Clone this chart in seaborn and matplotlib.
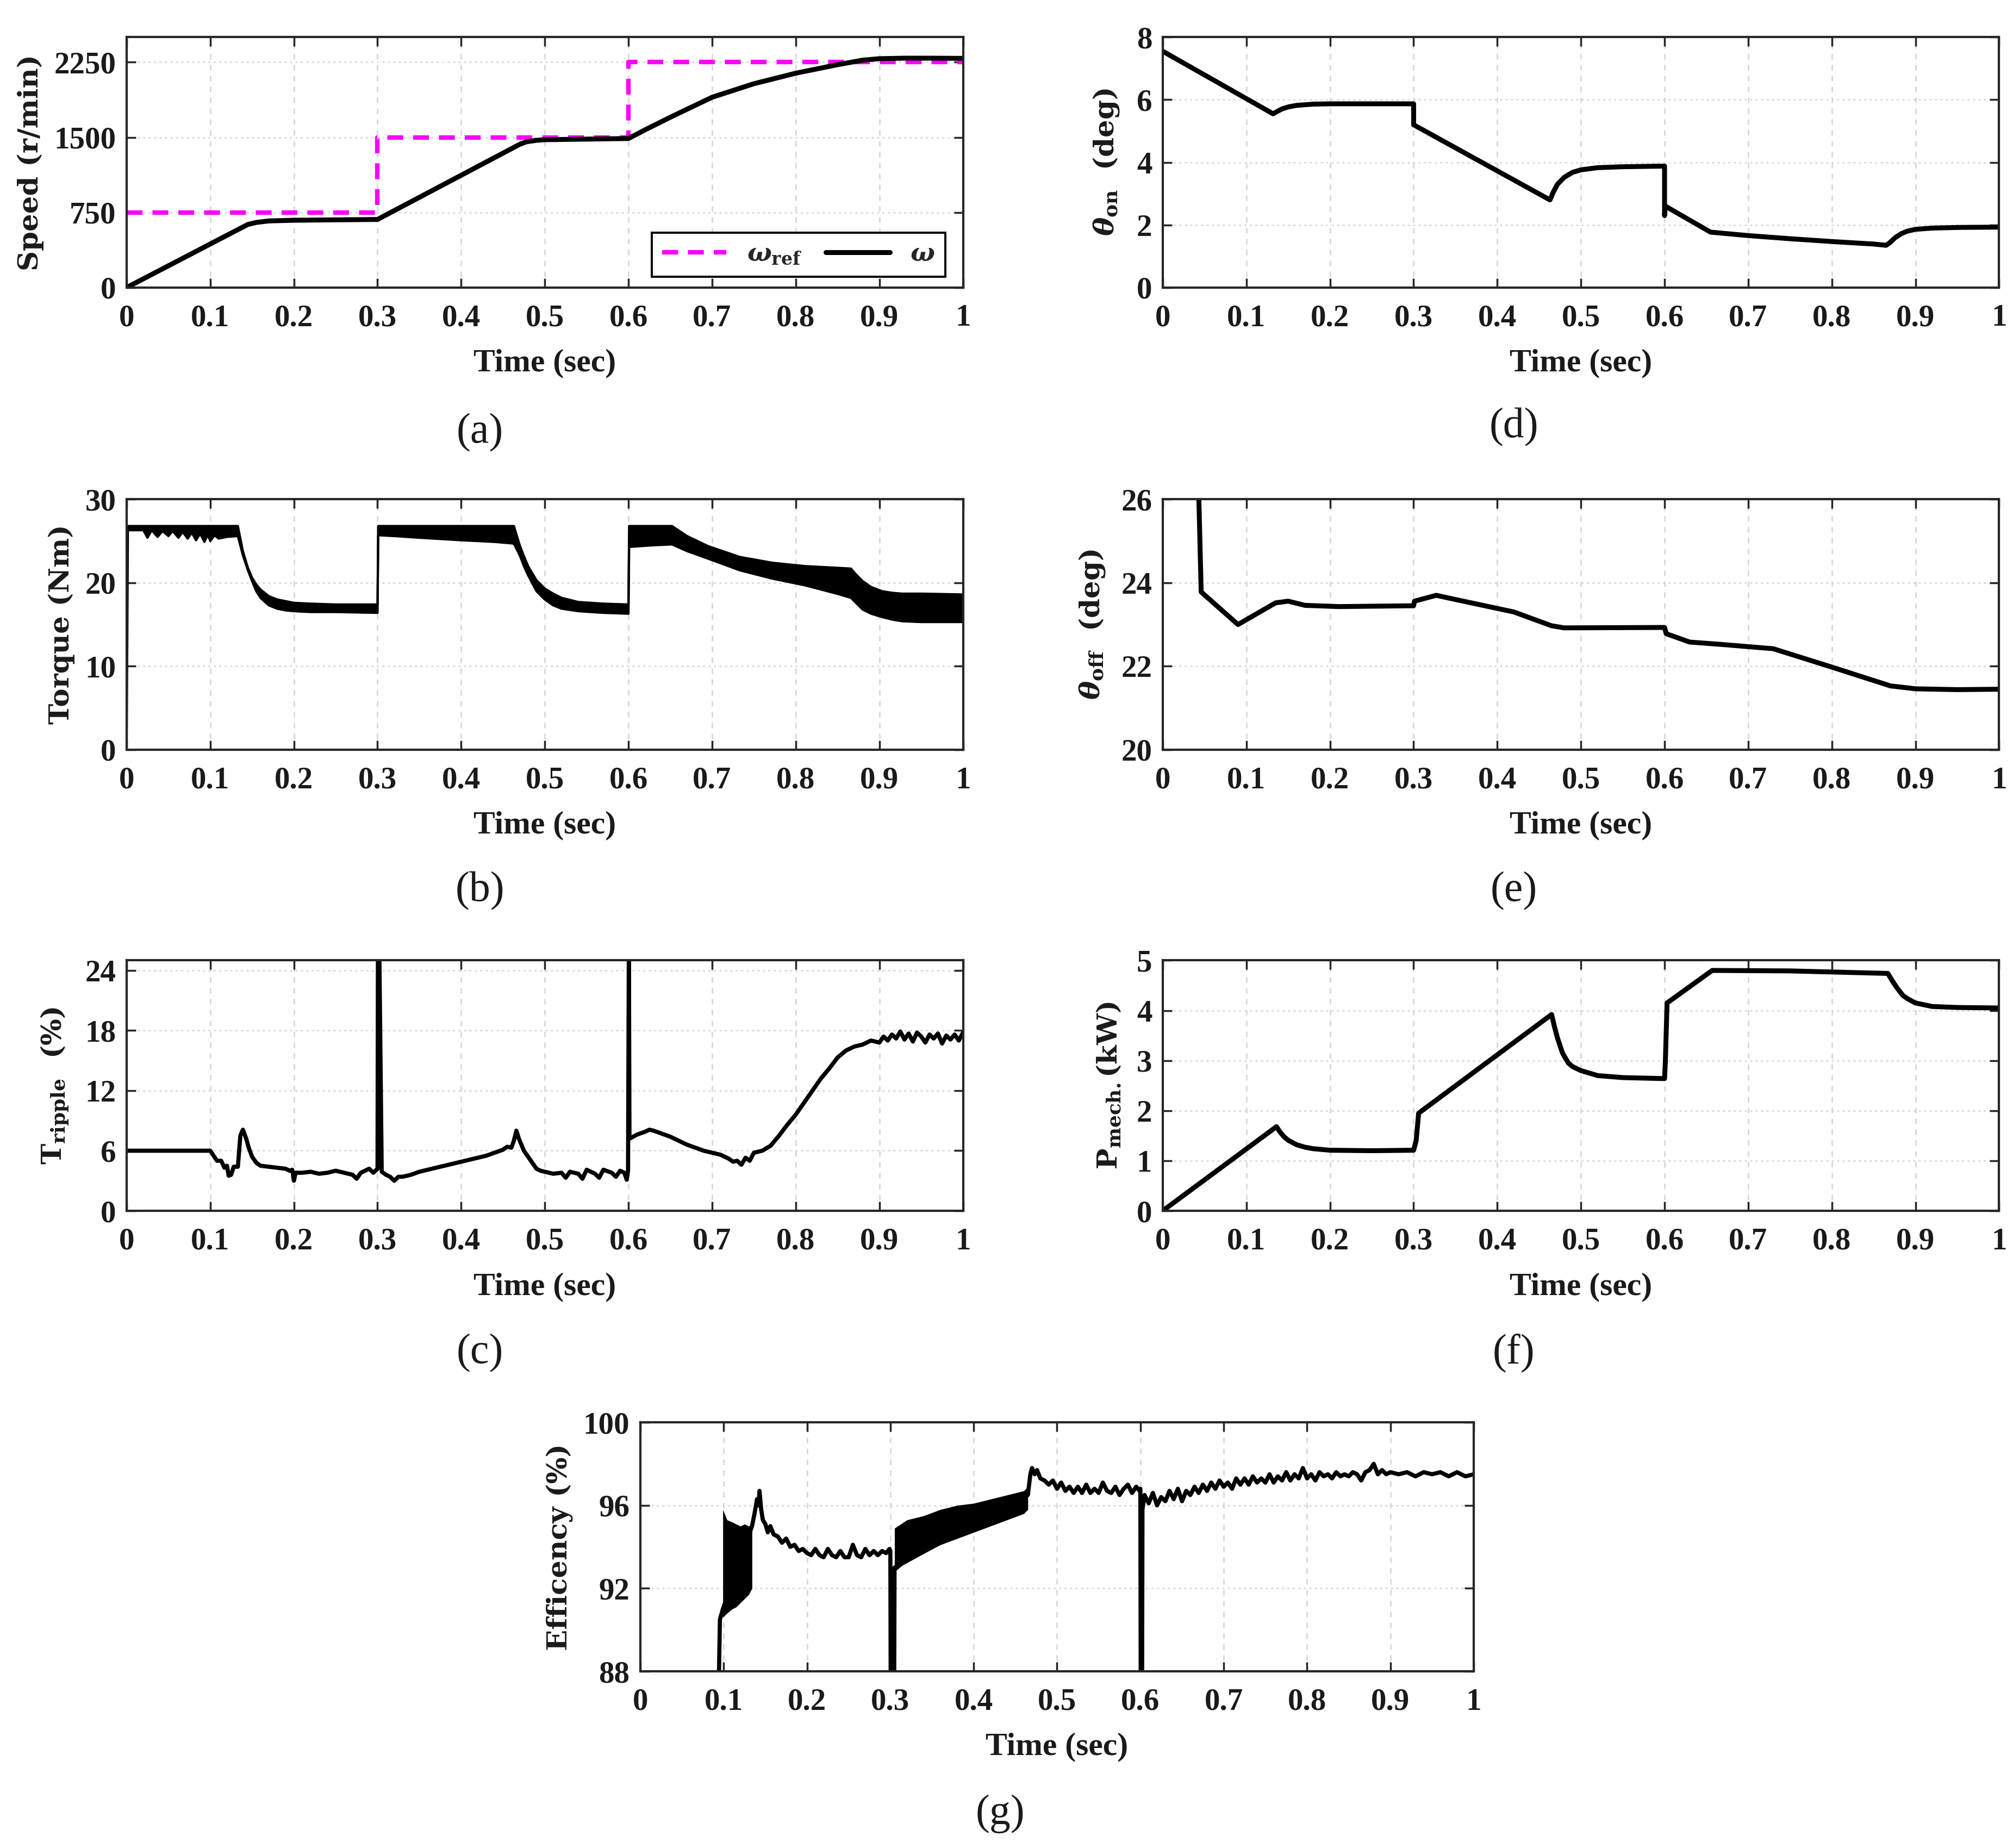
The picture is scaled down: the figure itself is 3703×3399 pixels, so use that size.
import numpy as np
import matplotlib
matplotlib.use("Agg")
import matplotlib.pyplot as plt
import seaborn as sns
from matplotlib.ticker import FuncFormatter

# ---- data ----
# (a) speed
ref_t = [0, 0.3, 0.3, 0.6, 0.6, 1.0]
ref_speed = [750, 750, 1500, 1500, 2250, 2250]
sp_t = [0, 0.138, 0.145, 0.155, 0.17, 0.2, 0.25, 0.3, 0.47, 0.478, 0.49, 0.5, 0.55, 0.6,
        0.62, 0.65, 0.7, 0.75, 0.8, 0.85, 0.88, 0.9, 0.93, 0.96, 1.0]
speed = [0, 600, 630, 650, 665, 672, 676, 680, 1430, 1455, 1470, 1476, 1482, 1488,
         1575, 1700, 1900, 2035, 2140, 2225, 2270, 2285, 2290, 2290, 2288]

# (b) torque band (upper / lower envelope)
tq_t = [0, 0.0015, 0.005, 0.02, 0.025, 0.03, 0.037, 0.043, 0.05, 0.055, 0.062, 0.067, 0.073,
        0.078, 0.083, 0.088, 0.093, 0.097, 0.1, 0.105, 0.11, 0.12, 0.133, 0.139, 0.145, 0.15,
        0.155, 0.16, 0.17, 0.18, 0.19, 0.2, 0.22, 0.25, 0.3, 0.3008, 0.32, 0.35, 0.4, 0.44,
        0.463, 0.47, 0.475, 0.48, 0.49, 0.5, 0.51, 0.52, 0.54, 0.57, 0.6, 0.6008, 0.63, 0.652,
        0.67, 0.695, 0.733, 0.772, 0.811, 0.849, 0.866, 0.872, 0.88, 0.89, 0.903, 0.915, 0.927,
        0.95, 1.0]
tq_hi = [26.8, 26.8, 26.8, 26.8, 26.8, 26.8, 26.8, 26.8, 26.8, 26.8, 26.8, 26.8, 26.8,
         26.8, 26.8, 26.8, 26.8, 26.8, 26.8, 26.8, 26.8, 26.8, 26.8, 23.8, 21.8, 20.6,
         19.8, 19.2, 18.4, 18.0, 17.8, 17.6, 17.5, 17.4, 17.4, 26.8, 26.8, 26.8, 26.8, 26.8,
         26.8, 24.5, 23.2, 22.0, 20.3, 19.3, 18.7, 18.2, 17.7, 17.5, 17.4, 26.8, 26.8, 26.8,
         25.6, 24.4, 23.1, 22.4, 22.0, 21.8, 21.7, 21.0, 20.2, 19.5, 19.0, 18.8, 18.7,
         18.7, 18.6]
tq_lo = [0, 26.3, 26.3, 26.3, 25.4, 26.3, 25.5, 26.2, 25.6, 26.2, 25.4, 26.1, 25.3,
         26.0, 25.1, 25.9, 24.9, 25.8, 25.0, 25.7, 25.3, 25.5, 25.6, 23.3, 21.5, 20.2,
         19.0, 18.2, 17.3, 16.9, 16.7, 16.6, 16.5, 16.5, 16.4, 25.7, 25.6, 25.4, 25.1, 24.9,
         24.7, 23.3, 22.0, 20.9, 19.0, 18.0, 17.3, 16.9, 16.6, 16.4, 16.3, 24.3, 24.5, 24.6,
         23.8, 22.9, 21.5, 20.5, 19.7, 18.7, 18.2, 17.6, 16.8, 16.3, 15.9, 15.6, 15.4,
         15.3, 15.3]

# (c) torque ripple
rip_t = [0, 0.1, 0.104, 0.108, 0.113, 0.117, 0.12, 0.122, 0.125, 0.128, 0.133, 0.136, 0.139,
         0.143, 0.146, 0.15, 0.155, 0.16, 0.17, 0.18, 0.19, 0.195, 0.198, 0.2, 0.202, 0.21,
         0.22, 0.23, 0.24, 0.25, 0.26, 0.27, 0.275, 0.28, 0.29, 0.295, 0.3, 0.3005, 0.302,
         0.305, 0.31, 0.315, 0.32, 0.325, 0.33, 0.34, 0.35, 0.36, 0.37, 0.38, 0.39, 0.4, 0.41,
         0.42, 0.43, 0.44, 0.45, 0.455, 0.46, 0.463, 0.466, 0.469, 0.472, 0.475, 0.48, 0.485,
         0.49, 0.495, 0.5, 0.51, 0.52, 0.525, 0.53, 0.54, 0.545, 0.55, 0.56, 0.565, 0.57, 0.58,
         0.585, 0.59, 0.595, 0.598, 0.5995, 0.6005, 0.6012, 0.61, 0.62, 0.625, 0.63, 0.64, 0.65,
         0.66, 0.67, 0.68, 0.69, 0.7, 0.71, 0.72, 0.725, 0.73, 0.735, 0.74, 0.745, 0.75, 0.76,
         0.77, 0.78, 0.79, 0.8, 0.81, 0.82, 0.83, 0.84, 0.85, 0.86, 0.87, 0.88, 0.89, 0.9,
         0.905, 0.91, 0.915, 0.92, 0.925, 0.93, 0.935, 0.94, 0.945, 0.95, 0.955, 0.96, 0.965,
         0.97, 0.975, 0.98, 0.985, 0.99, 0.995, 1.0]
ripple = [6.0, 6.0, 5.5, 5.0, 5.0, 4.3, 4.5, 3.5, 3.6, 4.4, 4.4, 7.5, 8.1,
          7.2, 6.3, 5.4, 4.8, 4.5, 4.4, 4.3, 4.2, 4.0, 4.1, 3.0, 3.8, 3.8,
          3.9, 3.7, 3.8, 4.0, 3.8, 3.6, 3.2, 3.8, 4.2, 3.8, 4.2, 27.0, 27.0,
          3.9, 3.6, 3.4, 3.0, 3.4, 3.4, 3.6, 3.9, 4.1, 4.3, 4.5, 4.7, 4.9, 5.1,
          5.3, 5.5, 5.8, 6.1, 6.4, 6.3, 7.0, 8.0, 7.2, 6.6, 6.0, 5.4, 4.8,
          4.2, 4.0, 3.9, 3.7, 3.8, 3.3, 3.9, 3.7, 3.2, 4.1, 3.7, 3.3, 4.1, 3.8,
          3.4, 4.0, 3.8, 3.1, 4.0, 27.0, 7.2, 7.6, 7.9, 8.1, 8.0, 7.7, 7.4,
          7.0, 6.6, 6.3, 6.0, 5.8, 5.6, 5.2, 4.9, 5.0, 4.6, 5.3, 5.0, 5.8, 6.0,
          6.5, 7.5, 8.6, 9.6, 10.8, 12.0, 13.2, 14.2, 15.3, 16.0, 16.4, 16.6, 17.0, 16.8,
          17.4, 17.0, 17.6, 17.2, 17.9, 17.1, 17.7, 16.9, 17.8, 17.4, 16.8, 17.6, 17.2,
          17.7, 16.7, 17.5, 17.1, 17.6, 17.0, 17.8]

# (d) turn-on angle
on_t = [0, 0.132, 0.137, 0.143, 0.15, 0.16, 0.18, 0.2, 0.25, 0.3, 0.3, 0.463, 0.467, 0.472,
        0.48, 0.49, 0.5, 0.52, 0.55, 0.6, 0.6, 0.601, 0.655, 0.7, 0.75, 0.8, 0.85, 0.865,
        0.87, 0.876, 0.883, 0.89, 0.9, 0.92, 0.95, 1.0]
theta_on = [7.55, 5.55, 5.63, 5.71, 5.77, 5.82, 5.86, 5.87, 5.87, 5.87, 5.2, 2.8, 3.05, 3.3,
            3.52, 3.68, 3.76, 3.83, 3.86, 3.88, 2.3, 2.6, 1.77, 1.66, 1.56, 1.47, 1.39, 1.35,
            1.45, 1.6, 1.72, 1.8, 1.86, 1.9, 1.92, 1.93]

# (e) turn-off angle
off_t = [0.042, 0.046, 0.09, 0.135, 0.15, 0.17, 0.21, 0.3, 0.301, 0.327, 0.35, 0.42, 0.465,
         0.48, 0.6, 0.602, 0.63, 0.67, 0.73, 0.8, 0.87, 0.9, 0.95, 1.0]
theta_off = [27.0, 23.78, 23.0, 23.52, 23.56, 23.46, 23.43, 23.45, 23.56, 23.7, 23.6, 23.3,
             22.97, 22.92, 22.93, 22.78, 22.58, 22.52, 22.42, 21.98, 21.53, 21.46, 21.44, 21.45]

# (f) mechanical power
pm_t = [0, 0.136, 0.14, 0.145, 0.15, 0.16, 0.17, 0.18, 0.2, 0.25, 0.3, 0.303, 0.306, 0.465,
        0.468, 0.472, 0.478, 0.485, 0.49, 0.5, 0.52, 0.55, 0.6, 0.601, 0.603, 0.657, 0.75,
        0.867, 0.872, 0.878, 0.885, 0.89, 0.9, 0.92, 0.95, 1.0]
p_mech = [0, 1.68, 1.58, 1.48, 1.41, 1.32, 1.27, 1.24, 1.21, 1.2, 1.21, 1.4, 1.95, 3.92,
          3.7, 3.45, 3.15, 2.95, 2.88, 2.8, 2.7, 2.66, 2.64, 3.0, 4.15, 4.8, 4.79,
          4.74, 4.6, 4.45, 4.3, 4.24, 4.15, 4.08, 4.06, 4.05]

# (g) efficiency: line plus two oscillating bands
eff_t = [0.0935, 0.0955, 0.099, 0.134, 0.137, 0.14, 0.142, 0.143, 0.145, 0.147, 0.15, 0.153,
         0.156, 0.16, 0.165, 0.17, 0.175, 0.18, 0.185, 0.19, 0.195, 0.2, 0.205, 0.21, 0.215,
         0.22, 0.225, 0.23, 0.235, 0.24, 0.245, 0.25, 0.255, 0.26, 0.265, 0.27, 0.275, 0.28,
         0.285, 0.29, 0.295, 0.299, 0.3, 0.3005, 0.3045, 0.305, 0.465, 0.468, 0.47, 0.473,
         0.476, 0.48, 0.485, 0.49, 0.495, 0.5, 0.505, 0.51, 0.515, 0.52, 0.525, 0.53, 0.535,
         0.54, 0.545, 0.55, 0.555, 0.56, 0.565, 0.57, 0.575, 0.58, 0.585, 0.59, 0.595, 0.599,
         0.6, 0.6005, 0.602, 0.6025, 0.605, 0.61, 0.615, 0.62, 0.625, 0.63, 0.635, 0.64, 0.645,
         0.65, 0.655, 0.66, 0.665, 0.67, 0.675, 0.68, 0.685, 0.69, 0.695, 0.7, 0.705, 0.71,
         0.715, 0.72, 0.725, 0.73, 0.735, 0.74, 0.745, 0.75, 0.755, 0.76, 0.765, 0.77, 0.775,
         0.78, 0.785, 0.79, 0.795, 0.8, 0.805, 0.81, 0.815, 0.82, 0.825, 0.83, 0.835, 0.84,
         0.845, 0.85, 0.855, 0.86, 0.865, 0.87, 0.875, 0.88, 0.885, 0.89, 0.895, 0.9, 0.91,
         0.92, 0.93, 0.94, 0.95, 0.96, 0.97, 0.98, 0.99, 1.0]
efficiency = [86.0, 90.5, 91.0, 95.0, 95.6, 96.3, 96.0, 96.7, 95.8, 95.3, 95.1, 94.7,
              95.0, 94.6, 94.5, 94.2, 94.4, 94.0, 94.1, 93.8, 93.9, 93.7, 93.6, 93.9, 93.6,
              93.5, 93.9, 93.6, 93.5, 93.8, 93.5, 93.5, 94.1, 93.6, 93.5, 93.9, 93.6, 93.8,
              93.6, 93.8, 93.7, 93.9, 93.8, 86.0, 86.0, 93.0, 96.5, 97.5, 97.8, 97.5,
              97.7, 97.3, 97.2, 97.0, 97.2, 96.8, 97.1, 96.7, 96.9, 96.6, 96.9, 96.6, 97.0,
              96.6, 96.8, 96.6, 97.1, 96.7, 96.6, 96.9, 96.5, 96.8, 97.0, 96.6, 96.9, 96.7,
              96.8, 86.0, 86.0, 95.8, 96.5, 96.1, 96.6, 96.0, 96.4, 96.2, 96.7, 96.3, 96.8,
              96.2, 96.7, 96.5, 96.9, 96.6, 97.0, 96.7, 97.1, 96.8, 97.2, 96.9, 97.1, 96.8,
              97.3, 97.0, 97.3, 97.0, 97.4, 97.1, 97.3, 97.1, 97.5, 97.1, 97.4, 97.2, 97.6,
              97.2, 97.5, 97.3, 97.8, 97.3, 97.5, 97.2, 97.6, 97.4, 97.5, 97.3, 97.6, 97.4,
              97.5, 97.4, 97.6, 97.5, 97.2, 97.6, 97.7, 98.0, 97.5, 97.7, 97.5, 97.6, 97.5,
              97.6, 97.4, 97.6, 97.5, 97.6, 97.4, 97.6, 97.4, 97.5]
band1_t = [0.099, 0.104, 0.11, 0.115, 0.12, 0.125, 0.13, 0.134]
band1_lo = [90.6, 90.8, 91.0, 91.1, 91.3, 91.5, 91.7, 92.0]
band1_hi = [95.8, 95.3, 95.2, 95.1, 95.0, 95.1, 95.0, 95.1]
band2_t = [0.305, 0.32, 0.34, 0.36, 0.38, 0.4, 0.42, 0.44, 0.46, 0.465]
band2_lo = [92.8, 93.3, 93.7, 94.1, 94.4, 94.7, 95.0, 95.3, 95.6, 95.8]
band2_hi = [94.9, 95.3, 95.5, 95.8, 96.0, 96.1, 96.3, 96.5, 96.7, 96.9]

time_ticks = np.round(np.arange(0, 1.01, 0.1), 1)

# ---- style ----
sns.set_style("ticks")
plt.rcParams["font.family"] = ["Liberation Serif", "DejaVu Serif"]
plt.rcParams["font.weight"] = "bold"
plt.rcParams["axes.labelweight"] = "bold"
plt.rcParams["mathtext.fontset"] = "custom"
plt.rcParams["mathtext.rm"] = "DejaVu Serif:bold"
plt.rcParams["mathtext.bf"] = "DejaVu Serif:bold"
plt.rcParams["mathtext.it"] = "DejaVu Serif:italic:bold"

EDGE = "#262626"
TXT = "#1a1a1a"
LW = 6.5

fig = plt.figure(figsize=(37.03, 33.99), dpi=100)


def make_ax(rect, ylim, yticks, ylabel, ylab_x):
    ax = fig.add_axes(rect)
    ax.set_xlim(0, 1)
    ax.set_ylim(*ylim)
    ax.set_xticks(time_ticks)
    ax.set_yticks(yticks)
    ax.xaxis.set_major_formatter(FuncFormatter(lambda v, p: f"{v:g}"))
    ax.tick_params(direction="in", length=12, width=2.5, top=True, right=True,
                   labelsize=41, color=EDGE, labelcolor=TXT)
    ax.tick_params(axis="x", pad=22)
    ax.tick_params(axis="y", pad=14)
    for lab in ax.get_xticklabels() + ax.get_yticklabels():
        lab.set_fontweight("bold")
    for s in ax.spines.values():
        s.set_linewidth(3)
        s.set_color(EDGE)
    ax.set_axisbelow(True)
    ax.grid(axis="x", ls=(0, (4, 4)), color="#d4d4d4", lw=1.8)
    ax.grid(axis="y", ls=(0, (1.5, 2.5)), color="#d4d4d4", lw=1.8)
    ax.set_xlabel("Time (sec)", fontsize=43, fontweight="bold", color=TXT)
    ax.xaxis.set_label_coords(0.5, -0.245)
    ax.set_ylabel(ylabel, fontsize=37, fontfamily="DejaVu Serif", fontweight="bold",
                  color=TXT)
    ax.yaxis.set_label_coords(ylab_x, 0.5)
    return ax


L, R = 0.0629, 0.5776
W = 0.4155
rows = [0.8444, 0.5943, 0.3448]
H = 0.1355

# (a)
ax = make_ax([L, rows[0], W, H], (0, 2500), [0, 750, 1500, 2250], "Speed (r/min)", -0.099)
sns.lineplot(x=ref_t, y=ref_speed, estimator=None, sort=False, color="#ff00ff", lw=6,
             linestyle=(0, (3.5, 2.2)), label=r"$\omega_{\mathrm{ref}}$", ax=ax)
sns.lineplot(x=sp_t, y=speed, estimator=None, sort=False, color="black", lw=LW,
             label=r"$\omega$", ax=ax)
leg = ax.legend(ncol=2, loc="lower left", bbox_to_anchor=(0.628, 0.043, 0.351, 0.209),
                mode="expand", fontsize=34, handlelength=2.5, fancybox=False,
                edgecolor="black", framealpha=1, borderaxespad=0, columnspacing=0.8)
leg.get_frame().set_linewidth(2.8)

# (b)
ax = make_ax([L, rows[1], W, H], (0, 30), [0, 10, 20, 30], "Torque (Nm)", -0.062)
ax.fill_between(tq_t, tq_lo, tq_hi, color="black", lw=0)
sns.lineplot(x=tq_t, y=tq_hi, estimator=None, sort=False, color="black", lw=3, ax=ax)
sns.lineplot(x=tq_t, y=tq_lo, estimator=None, sort=False, color="black", lw=3, ax=ax)

# (c)
ax = make_ax([L, rows[2], W, H], (0, 25), [0, 6, 12, 18, 24],
             r"$\mathrm{T}_{\mathrm{ripple}}$  (%)", -0.067)
sns.lineplot(x=rip_t, y=ripple, estimator=None, sort=False, color="black", lw=5.5, ax=ax)

# (d)
ax = make_ax([R, rows[0], W, H], (0, 8), [0, 2, 4, 6, 8],
             r"$\theta_{\mathrm{on}}$  (deg)", -0.05)
sns.lineplot(x=on_t, y=theta_on, estimator=None, sort=False, color="black", lw=LW, ax=ax)

# (e)
ax = make_ax([R, rows[1], W, H], (20, 26), [20, 22, 24, 26],
             r"$\theta_{\mathrm{off}}$  (deg)", -0.067)
sns.lineplot(x=off_t, y=theta_off, estimator=None, sort=False, color="black", lw=LW, ax=ax)

# (f)
ax = make_ax([R, rows[2], W, H], (0, 5), [0, 1, 2, 3, 4, 5],
             r"$\mathrm{P}_{\mathrm{mech.}}$(kW)", -0.047)
sns.lineplot(x=pm_t, y=p_mech, estimator=None, sort=False, color="black", lw=LW, ax=ax)

# (g)
ax = make_ax([0.3181, 0.0956, 0.4140, 0.1347], (88, 100), [88, 92, 96, 100],
             "Efficency (%)", -0.081)
ax.fill_between(band1_t, band1_lo, band1_hi, color="black", lw=0)
ax.fill_between(band2_t, band2_lo, band2_hi, color="black", lw=0)
sns.lineplot(x=eff_t, y=efficiency, estimator=None, sort=False, color="black", lw=5.5, ax=ax)

# panel captions
for txt, x, y in [("(a)", 0.2385, 0.766), ("(b)", 0.2385, 0.518), ("(c)", 0.2385, 0.268),
                  ("(d)", 0.752, 0.769), ("(e)", 0.752, 0.518), ("(f)", 0.752, 0.268),
                  ("(g)", 0.497, 0.0185)]:
    fig.text(x, y, txt, ha="center", va="center", fontsize=56, fontweight="normal",
             color=TXT)

fig.savefig("out.png", dpi=100, facecolor="white")
